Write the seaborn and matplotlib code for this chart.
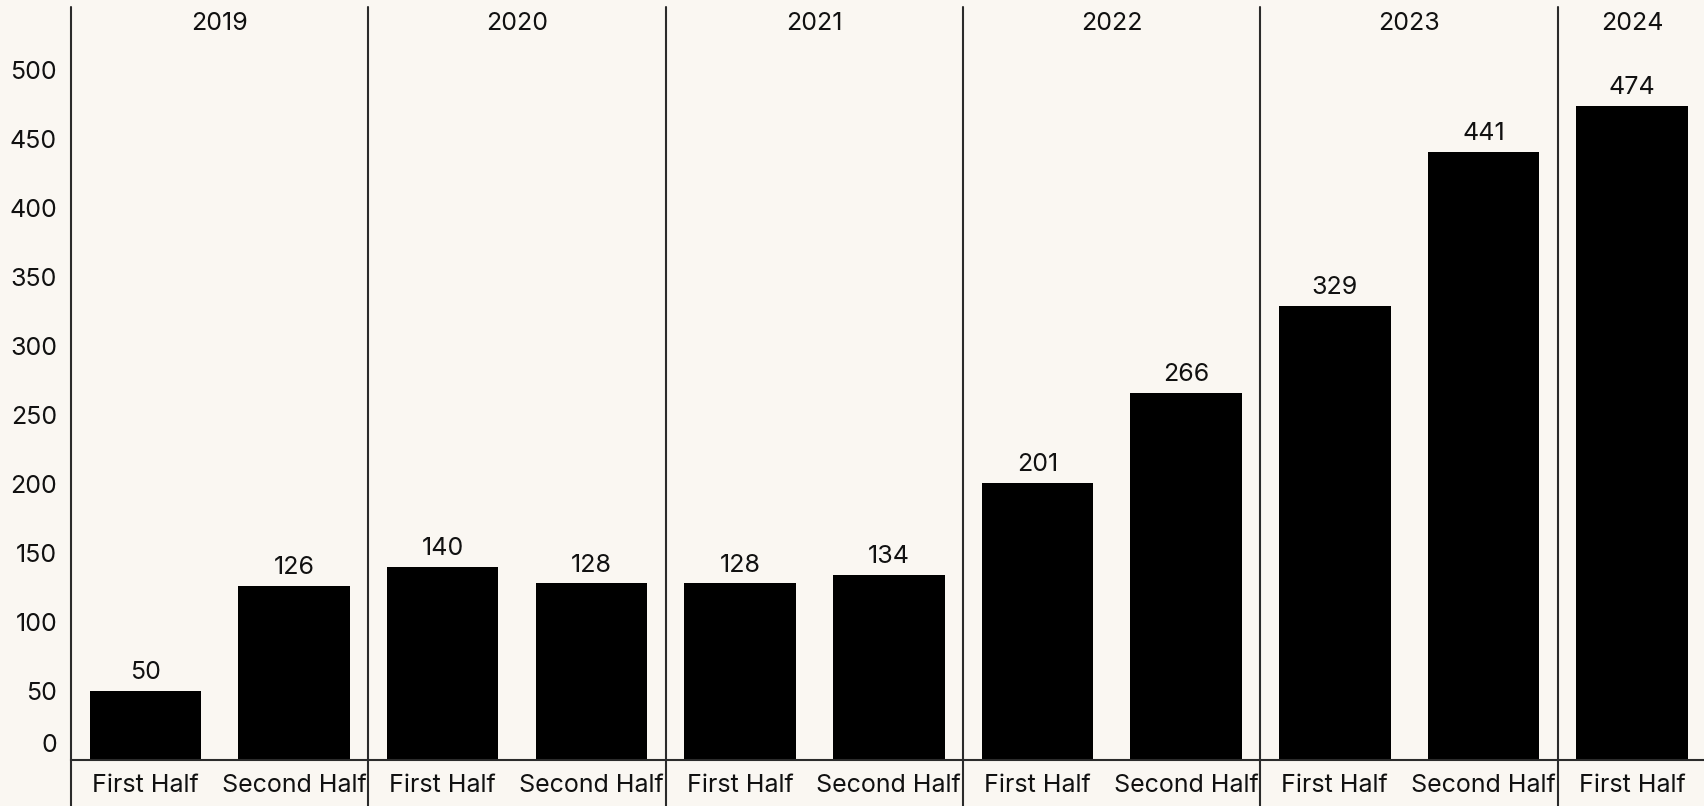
import matplotlib
matplotlib.use("Agg")
import matplotlib.pyplot as plt
import matplotlib.transforms as mtransforms
import seaborn as sns
import pandas as pd

years = ["2019", "2019", "2020", "2020", "2021", "2021",
         "2022", "2022", "2023", "2023", "2024"]
halves = ["First Half", "Second Half", "First Half", "Second Half",
          "First Half", "Second Half", "First Half", "Second Half",
          "First Half", "Second Half", "First Half"]
values = [50, 126, 140, 128, 128, 134, 201, 266, 329, 441, 474]
y_ticks = [0, 50, 100, 150, 200, 250, 300, 350, 400, 450, 500]

BG = "#FAF7F2"
INK = "#2b2b2b"
FS = 18

sns.set_theme(style="white")
plt.rcParams["font.family"] = ["Inter", "DejaVu Sans"]

df = pd.DataFrame({"period": [f"{y} {h}" for y, h in zip(years, halves)],
                   "half": halves, "year": years, "value": values})

fig = plt.figure(figsize=(17.04, 8.06), dpi=100, facecolor=BG)
ax = fig.add_axes([71 / 1704, 46 / 806, 1 - 71 / 1704 + 0.0015, (760 - 7) / 806])
ax.set_facecolor(BG)

sns.barplot(data=df, x="period", y="value", order=list(df["period"]),
            color="black", width=0.75, saturation=1, ax=ax)
for p in ax.patches:
    p.set_edgecolor("none")

ax.bar_label(ax.containers[0], labels=[str(v) for v in values],
             padding=5, fontsize=FS, color="#111111")

ax.set_xlim(-0.5, len(values) - 0.5)
ax.set_ylim(0, 546)
ax.set_yticks(y_ticks)
ax.set_yticklabels([str(t) for t in y_ticks], fontsize=FS, color="#111111")
ax.set_xticks(range(len(values)))
ax.set_xticklabels(halves, fontsize=FS, color="#111111")
ax.tick_params(axis="both", length=0)
ax.tick_params(axis="y", pad=10)
ax.tick_params(axis="x", pad=10)
ax.set_xlabel("")
ax.set_ylabel("")

# lift the zero label above the baseline
for lbl in ax.get_yticklabels():
    if lbl.get_text() == "0":
        lbl.set_transform(lbl.get_transform() + mtransforms.ScaledTranslation(0, 17 / 100, fig.dpi_scale_trans))

for side in ["top", "right", "left"]:
    ax.spines[side].set_visible(False)
ax.spines["bottom"].set_color(INK)
ax.spines["bottom"].set_linewidth(1.5)

# year group dividers spanning header, plot and label rows
blend = mtransforms.blended_transform_factory(ax.transData, fig.transFigure)
unique_years = list(dict.fromkeys(years))
start = 0
for yr in unique_years:
    n = years.count(yr)
    ax.plot([start - 0.5, start - 0.5], [0, 1 - 7 / 806], transform=blend,
            color=INK, linewidth=1.5, clip_on=False)
    ax.text(start - 0.5 + n / 2, 1 - 23 / 806, yr, transform=blend,
            ha="center", va="center", fontsize=FS, color="#111111")
    start += n

fig.savefig("out.png", dpi=100, facecolor=BG)
